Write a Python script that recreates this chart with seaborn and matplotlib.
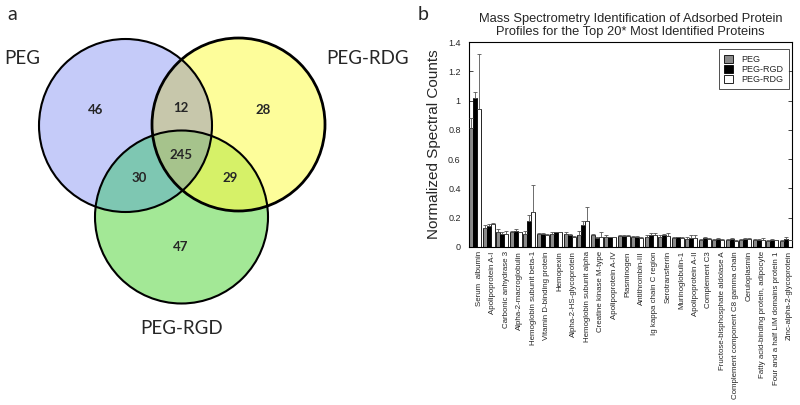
import numpy as np
import pandas as pd
import matplotlib
matplotlib.use("Agg")
import matplotlib.pyplot as plt
from matplotlib.patches import Circle
from matplotlib.colors import to_rgb
from matplotlib.transforms import ScaledTranslation
import seaborn as sns

# ---- panel a: Venn counts ----
set_names = ["PEG", "PEG-RDG", "PEG-RGD"]
venn_counts = {"100": 46, "010": 28, "001": 47, "110": 12, "101": 30, "011": 29, "111": 245}
venn_colors = {"000": "#ffffff", "100": "#c5cbf9", "010": "#fdfd9a", "001": "#a3e897",
               "110": "#c8c8ac", "101": "#7ec8b2", "011": "#d6f268", "111": "#a6c48c"}

# ---- panel b: spectral counts ----
proteins = ["Serum  albumin", "Apolipoprotein A-I", "Carbonic anhydrase 3", "Alpha-2-macroglobulin",
            "Hemoglobin subunit beta-1", "Vitamin D-binding protein", "Hemopexin",
            "Alpha-2-HS-glycoprotein", "Hemoglobin subunit alpha", "Creatine kinase M-type",
            "Apolipoprotein A-IV", "Plasminogen", "Antithrombin-III", "Ig kappa chain C region",
            "Serotransferrin", "Murinoglobulin-1", "Apolipoprotein A-II", "Complement C3",
            "Fructose-bisphosphate aldolase A", "Complement component C8 gamma chain",
            "Ceruloplasmin", "Fatty acid-binding protein, adipocyte",
            "Four and a half LIM domains protein 1", "Zinc-alpha-2-glycoprotein"]
peg = [0.81, 0.13, 0.105, 0.10, 0.09, 0.09, 0.09, 0.09, 0.085, 0.08, 0.07, 0.075,
       0.07, 0.07, 0.07, 0.06, 0.055, 0.05, 0.05, 0.05, 0.05, 0.045, 0.04, 0.04]
peg_err = [0.07, 0.02, 0.015, 0.01, 0.02, 0.005, 0.01, 0.015, 0.025, 0.01, 0.01, 0.005,
           0.005, 0.01, 0.01, 0.01, 0.01, 0.005, 0.005, 0.005, 0.005, 0.01, 0.01, 0.01]
peg_rgd = [1.02, 0.145, 0.09, 0.11, 0.18, 0.09, 0.10, 0.08, 0.15, 0.06, 0.065, 0.075,
           0.07, 0.085, 0.08, 0.065, 0.06, 0.06, 0.055, 0.055, 0.055, 0.05, 0.05, 0.055]
peg_rgd_err = [0.04, 0.015, 0.01, 0.01, 0.04, 0.005, 0.005, 0.01, 0.03, 0.005, 0.005, 0.005,
               0.005, 0.01, 0.01, 0.005, 0.02, 0.005, 0.005, 0.005, 0.005, 0.005, 0.005, 0.01]
peg_rdg = [0.94, 0.16, 0.09, 0.10, 0.24, 0.085, 0.10, 0.07, 0.18, 0.07, 0.065, 0.075,
           0.06, 0.08, 0.075, 0.06, 0.06, 0.055, 0.05, 0.04, 0.055, 0.05, 0.045, 0.045]
peg_rdg_err = [0.38, 0.005, 0.02, 0.005, 0.18, 0.005, 0.005, 0.005, 0.09, 0.03, 0.005, 0.005,
               0.01, 0.015, 0.02, 0.005, 0.02, 0.005, 0.005, 0.01, 0.005, 0.01, 0.005, 0.005]
groups = ["PEG", "PEG-RGD", "PEG-RDG"]
bar_colors = ["#8a8a8a", "#000000", "#ffffff"]

sns.set_style("white")
plt.rcParams['font.family'] = ['Liberation Sans', 'DejaVu Sans']

fig = plt.figure(figsize=(8, 4.05), dpi=100)

# ---------- Venn ----------
axv = fig.add_axes([0, 0, 0.525, 1])
axv.set_xlim(0, 420)
axv.set_ylim(405, 0)
axv.axis("off")
centers = [(125.5, 125.5), (238.5, 124.5), (181.5, 217)]
radius = 86.5
xx, yy = np.meshgrid(np.arange(0, 420, 0.5) + 0.25, np.arange(0, 405, 0.5) + 0.25)
inside = [((xx - cx) ** 2 + (yy - cy) ** 2) <= radius ** 2 for cx, cy in centers]
img = np.ones(xx.shape + (3,))
for key, col in venn_colors.items():
    m = np.ones(xx.shape, bool)
    for k, ch in enumerate(key):
        m &= inside[k] if ch == "1" else ~inside[k]
    img[m] = to_rgb(col)
axv.imshow(img, extent=(0, 420, 405, 0), interpolation="bilinear", zorder=1)
for (cx, cy), lw in zip(centers, [1.5, 2.0, 1.5]):
    axv.add_patch(Circle((cx, cy), radius, fill=False, ec="black", lw=lw, zorder=3))

count_pos = {"100": (96, 110), "110": (181, 108), "010": (263, 110), "111": (181, 155),
             "101": (139, 178), "011": (230, 178), "001": (181, 247)}
for key, n in venn_counts.items():
    x, y = count_pos[key]
    axv.text(x, y, str(n), ha="center", va="center", fontsize=9.5, fontweight="bold",
             family=["Lato", "DejaVu Sans"], zorder=4)
label_pos = [(4, 59, "left"), (409, 59, "right"), (182, 328, "center")]
for name, (x, y, ha) in zip(set_names, label_pos):
    axv.text(x, y, name, ha=ha, va="center", fontsize=13.5, family=["Lato", "DejaVu Sans"])
axv.text(7, 15, "a", ha="left", va="center", fontsize=14, family=["Lato", "DejaVu Sans"])
fig.text(418 / 800, 1 - 15 / 405, "b", ha="left", va="center", fontsize=14,
         family=["Lato", "DejaVu Sans"])

# ---------- bars ----------
df = pd.DataFrame({
    "protein": proteins * 3,
    "group": [g for g in groups for _ in proteins],
    "value": peg + peg_rgd + peg_rdg,
})
ax = fig.add_axes([469 / 800, 1 - 247 / 405, 323 / 800, 205 / 405])
sns.barplot(data=df, x="protein", y="value", hue="group", hue_order=groups,
            palette=bar_colors, edgecolor="black", linewidth=0.6, width=0.9,
            errorbar=None, ax=ax, saturation=1)
for cont, vals, errs in zip(ax.containers, [peg, peg_rgd, peg_rdg], [peg_err, peg_rgd_err, peg_rdg_err]):
    xs = [p.get_x() + p.get_width() / 2 for p in cont.patches]
    ax.errorbar(xs, vals, yerr=[np.zeros(len(errs)), errs], fmt="none", ecolor="#555555",
                elinewidth=0.6, capsize=1.2, capthick=0.6, zorder=5)

ax.set_xlim(-0.47, len(proteins) - 0.53)
ax.set_ylim(0, 1.4)
ax.set_yticks(np.arange(0, 1.41, 0.2))
ax.set_yticklabels(["0", "0.2", "0.4", "0.6", "0.8", "1", "1.2", "1.4"], fontsize=6.5)
ax.tick_params(axis="y", direction="in", length=3, width=0.6, pad=6, left=True, right=True)
ax.tick_params(axis="x", length=0, labelsize=5.7, pad=3)
shift = ScaledTranslation(4 / 100, 0, fig.dpi_scale_trans)
for lab in ax.get_xticklabels():
    lab.set_rotation(90)
    lab.set_transform(lab.get_transform() + shift)
ax.set_xlabel("")
ax.set_ylabel("Normalized Spectral Counts", fontsize=11, labelpad=5)
ax.set_title("Mass Spectrometry Identification of Adsorbed Protein\nProfiles for the Top 20* Most Identified Proteins",
             fontsize=9.3, pad=5, linespacing=1.1)
for s in ax.spines.values():
    s.set_color("black")
    s.set_linewidth(0.8)
leg = ax.legend(loc="upper right", bbox_to_anchor=(0.99, 0.965), fontsize=6.5, frameon=True,
                fancybox=False, edgecolor="black", handlelength=1.0, handleheight=1.0,
                borderpad=0.6, labelspacing=0.1, handletextpad=0.9, borderaxespad=0)
leg.get_frame().set_linewidth(0.6)

fig.savefig("out.png", dpi=100)
